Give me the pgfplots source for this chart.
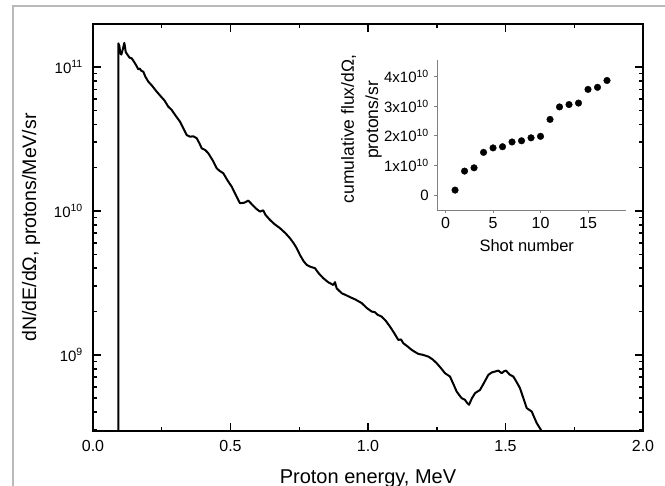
\documentclass[border=0pt]{standalone}
\usepackage{fontspec}
\setmainfont{Liberation Sans}
\usepackage{pgfplots}
\pgfplotsset{compat=1.18}
\pgfplotstableread{
E val
0.0921 1e8
0.0921 1.46e11
0.0960 1.40e11
0.0990 1.25e11
0.1030 1.22e11
0.1080 1.32e11
0.1140 1.47e11
0.1190 1.27e11
0.1250 1.22e11
0.1330 1.16e11
0.1407 1.149e11
0.1500 1.08e11
0.1580 1.02e11
0.1647 9.64e10
0.1700 9.75e10
0.1760 9.40e10
0.1829 9.28e10
0.1900 8.60e10
0.2011 7.91e10
0.2150 7.40e10
0.2316 6.74e10
0.2450 6.30e10
0.2600 5.85e10
0.2738 5.30e10
0.2862 5.03e10
0.3000 4.60e10
0.3164 4.17e10
0.3300 3.70e10
0.3407 3.37e10
0.3527 3.28e10
0.3650 3.30e10
0.3771 3.20e10
0.3870 2.95e10
0.3953 2.725e10
0.4080 2.65e10
0.4193 2.516e10
0.4350 2.25e10
0.4498 1.98e10
0.4600 1.90e10
0.4738 1.827e10
0.4900 1.62e10
0.5044 1.475e10
0.5200 1.28e10
0.5345 1.131e10
0.5500 1.14e10
0.5647 1.18e10
0.5800 1.10e10
0.5950 1.03e10
0.6073 9.89e9
0.6190 1.01e10
0.6270 9.40e9
0.6436 8.66e9
0.6600 8.10e9
0.6800 7.59e9
0.7000 7.00e9
0.7164 6.46e9
0.7300 5.95e9
0.7407 5.51e9
0.7527 4.94e9
0.7650 4.50e9
0.7771 4.22e9
0.7900 4.10e9
0.8073 4.00e9
0.8200 3.70e9
0.8374 3.41e9
0.8550 3.20e9
0.8738 3.06e9
0.8800 3.20e9
0.8860 2.90e9
0.9044 2.68e9
0.9200 2.60e9
0.9345 2.52e9
0.9550 2.42e9
0.9771 2.29e9
0.9950 2.12e9
1.0135 2.00e9
1.0250 1.98e9
1.0350 1.90e9
1.0498 1.845e9
1.0650 1.72e9
1.0800 1.572e9
1.0950 1.42e9
1.1102 1.27e9
1.1200 1.28e9
1.1284 1.205e9
1.1450 1.14e9
1.1590 1.083e9
1.1700 1.05e9
1.1830 1.016e9
1.2000 1.00e9
1.2193 9.73e8
1.2350 9.30e8
1.2498 8.75e8
1.2650 8.10e8
1.2800 7.46e8
1.2982 7.07e8
1.3100 6.30e8
1.3225 5.56e8
1.3320 5.25e8
1.3407 5.00e8
1.3527 4.87e8
1.3600 4.65e8
1.3673 4.50e8
1.3780 5.00e8
1.3891 5.42e8
1.4073 5.71e8
1.4220 6.40e8
1.4375 7.26e8
1.4500 7.55e8
1.4618 7.66e8
1.4738 7.78e8
1.4862 7.46e8
1.4950 7.70e8
1.5018 7.78e8
1.5150 7.30e8
1.5284 7.07e8
1.5400 6.50e8
1.5527 5.87e8
1.5650 5.00e8
1.5771 4.27e8
1.5953 4.04e8
1.6135 3.36e8
1.6290 3.01e8
1.6400 2.70e8
}\spectrum
\begin{document}
\begin{tikzpicture}
\begin{axis}[
  at={(0,0)}, anchor=south west,
  scale only axis, width=550bp, height=407bp,
  ymode=log, xmin=0, xmax=2, ymin=2.96e8, ymax=1.99e11,
  xtick={0,0.5,1,1.5,2}, xticklabels={0.0,0.5,1.0,1.5,2.0},
  minor xtick={0.25,0.75,1.25,1.75},
  ytick={1e9,1e10,1e11},
  yticklabels={10\textsuperscript{9},10\textsuperscript{10},10\textsuperscript{11}},
  minor ytick={3e8,4e8,5e8,6e8,7e8,8e8,9e8,2e9,3e9,4e9,5e9,6e9,7e9,8e9,9e9,2e10,3e10,4e10,5e10,6e10,7e10,8e10,9e10},
  tick align=inside,
  major tick length=8bp, minor tick length=4bp,
  axis line style={line width=2bp},
  every tick/.style={black, line width=1.5bp},
  xticklabel style={font=\fontsize{16bp}{19bp}\selectfont, anchor=north, inner sep=0pt, yshift=-9bp},
  yticklabel style={font=\fontsize{15bp}{18bp}\selectfont, anchor=east, inner sep=0pt, xshift=-10bp},
  xlabel={Proton energy, MeV},
  ylabel={dN/dE/dΩ, protons/MeV/sr},
  xlabel style={at={(axis description cs:0.5,-0.0958)}, anchor=north, inner sep=0pt, font=\fontsize{20bp}{24bp}\selectfont},
  ylabel style={at={(axis description cs:-0.1127,0.5)}, anchor=center, inner sep=0pt, font=\fontsize{19.5bp}{23bp}\selectfont},
]
\addplot[black, line width=2bp, line join=round] table[x=E, y=val] {\spectrum};
\end{axis}
\begin{axis}[
  at={(344bp,221bp)}, anchor=south west,
  scale only axis, width=189bp, height=150bp,
  xmin=-0.9, xmax=19, ymin=-0.5e10, ymax=4.55e10,
  clip=false,
  axis x line*=bottom, axis y line*=left,
  axis line style={gray, line width=0.9bp, -},
  xtick={0,5,10,15}, xticklabels={0,5,10,15},
  ytick={0,1e10,2e10,3e10,4e10},
  yticklabels={0,1x10\textsuperscript{10},2x10\textsuperscript{10},3x10\textsuperscript{10},4x10\textsuperscript{10}},
  scaled y ticks=false,
  tick align=outside, major tick length=3bp,
  every tick/.style={gray, line width=0.8bp},
  xticklabel style={font=\fontsize{16bp}{19bp}\selectfont, anchor=north, inner sep=0pt, yshift=-4bp},
  yticklabel style={font=\fontsize{15bp}{18bp}\selectfont, anchor=east, inner sep=0pt, xshift=-5bp},
  xlabel={Shot number},
  xlabel style={at={(axis description cs:0.475,-0.193)}, anchor=north, inner sep=0pt, font=\fontsize{16.5bp}{20bp}\selectfont},
]
\addplot[only marks, mark=*, mark size=3.3bp, black] coordinates {
(1,0.17e10) (2,0.81e10) (3,0.92e10) (4,1.44e10) (5,1.59e10) (6,1.63e10)
(7,1.79e10) (8,1.83e10) (9,1.93e10) (10,1.98e10) (11,2.55e10) (12,2.97e10)
(13,3.05e10) (14,3.10e10) (15,3.56e10) (16,3.63e10) (17,3.86e10)
};
\node[rotate=90, anchor=center, inner sep=0pt, font=\fontsize{17.5bp}{21bp}\selectfont] at (axis description cs:-0.468,0.54) {cumulative flux/dΩ,};
\node[rotate=90, anchor=center, inner sep=0pt, font=\fontsize{17.5bp}{21bp}\selectfont] at (axis description cs:-0.335,0.60) {protons/sr};
\end{axis}
\draw[gray!55, line width=1.5bp] (-80bp,-70bp) -- (-80bp,425bp) -- (580bp,425bp);
\pgfresetboundingbox
\path[use as bounding box] (-93bp,-55bp) rectangle (572bp,431bp);
\end{tikzpicture}
\end{document}
